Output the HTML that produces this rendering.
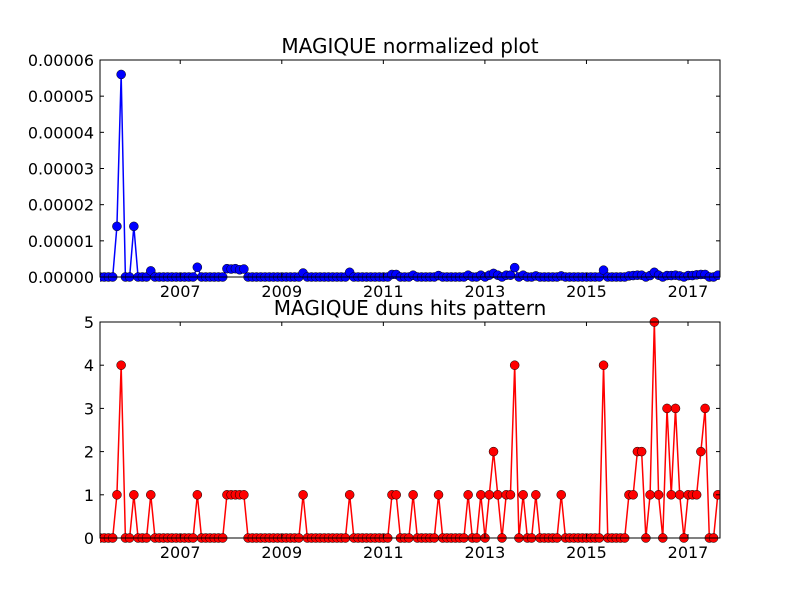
<!DOCTYPE html>
<html><head><meta charset="utf-8"><style>
html,body{margin:0;padding:0;background:#fff;}
svg{display:block;font-family:"DejaVu Sans","Liberation Sans",sans-serif;}
</style></head><body>
<svg id="chart" width="800" height="600" viewBox="0 0 800 600"></svg>
<script>
// Monthly data starting Jun 2005 (index 0)
const startYear = 2005.42;
const hitIdx = [4,5,8,12,23,30,31,32,33,34,48,59,69,70,74,80,87,90,92,93,94,96,97,98,100,103,109,119,125,126,127,128,130,131,132,134,135,136,137,139,140,141,142,143,146];
const hitVal = [1,4,1,1,1,1,1,1,1,1,1,1,1,1,1,1,1,1,1,2,1,1,1,4,1,1,1,4,1,1,2,2,1,5,1,3,1,3,1,1,1,1,2,3,1];
const normVal = [1.4,5.6,1.4,0.17,0.27,0.23,0.22,0.23,0.2,0.22,0.11,0.13,0.07,0.07,0.05,0.04,0.05,0.05,0.05,0.1,0.05,0.05,0.05,0.26,0.05,0.03,0.03,0.19,0.03,0.04,0.05,0.05,0.04,0.13,0.05,0.04,0.04,0.05,0.03,0.04,0.04,0.06,0.07,0.07,0.05]; // ×1e-5
const nMonths = 147;
const xTickYears = [2007,2009,2011,2013,2015,2017];
const topTickLabels = ["0.00000","0.00001","0.00002","0.00003","0.00004","0.00005","0.00006"];
const topTickVals = [0,1,2,3,4,5,6];
const botTickVals = [0,1,2,3,4,5];

const NS="http://www.w3.org/2000/svg";
const svg=document.getElementById('chart');
function mk(t,a,p){const e=document.createElementNS(NS,t);for(const k in a)e.setAttribute(k,a[k]);(p||svg).appendChild(e);return e;}
const X0=100,X1=720;
const xMin=startYear, xMax=2017.63;
function xs(yr){return X0+(yr-xMin)/(xMax-xMin)*(X1-X0);}

function series(vals){const a=new Array(nMonths).fill(0);hitIdx.forEach((m,k)=>a[m]=vals[k]);return a;}

function panel(name,top,bot,yMax,vals,color,ticks,labels,title){
  const g=mk('g',{});
  
  
  const ys=v=>bot-v/yMax*(bot-top);
  const cp=mk('clipPath',{id:name+'-clip'},g);mk('rect',{x:X0,y:top-6,width:X1-X0,height:bot-top+12},cp);
  const data=series(vals);
  const pts=data.map((v,i)=>[xs(startYear+i/12),ys(v)]);
  const inner=mk('g',{'clip-path':'url(#'+name+'-clip)'},g);
  const line=mk('polyline',{points:pts.map(p=>p.join(',')).join(' '),fill:'none',stroke:color,'stroke-width':1.5},inner);
  
  
  pts.forEach((p,i)=>{
    const c=mk('circle',{cx:p[0],cy:p[1],r:4.5,fill:color,stroke:'#000','stroke-width':0.5},inner);
    
    
  });
  const fr=mk('rect',{x:X0,y:top,width:X1-X0,height:bot-top,fill:'none',stroke:'#000','stroke-width':1},g);
  
  
  xTickYears.forEach(yr=>{
    const x=xs(yr);
    mk('line',{x1:x,x2:x,y1:bot,y2:bot-4,stroke:'#000'},g);
    mk('line',{x1:x,x2:x,y1:top,y2:top+4,stroke:'#000'},g);
    const t=mk('text',{x:x,y:bot+20,'font-size':16,'text-anchor':'middle'},g);
    t.textContent=yr;
    
    
  });
  ticks.forEach((v,k)=>{
    const y=ys(v);
    mk('line',{x1:X0,x2:X0+4,y1:y,y2:y,stroke:'#000'},g);
    mk('line',{x1:X1,x2:X1-4,y1:y,y2:y,stroke:'#000'},g);
    const t=mk('text',{x:X0-6,y:y+6,'font-size':16,'text-anchor':'end'},g);
    t.textContent=labels[k];
    
    
  });
  const tt=mk('text',{x:410,y:top-7,'font-size':20,'text-anchor':'middle'},g);
  tt.textContent=title;
  
  
}
panel('normalized-plot',60,277,6,normVal,'#0000ff',topTickVals,topTickLabels,'MAGIQUE normalized plot');
panel('hits-pattern',322,538,5,hitVal,'#ff0000',botTickVals,botTickVals.map(String),'MAGIQUE duns hits pattern');
</script>
</body></html>
